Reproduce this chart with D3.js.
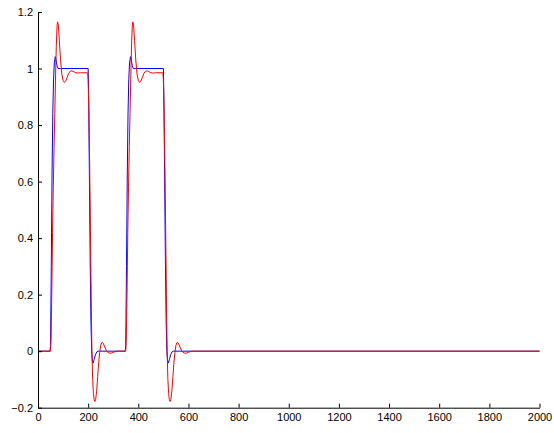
<!DOCTYPE html>
<html>
<head>
<meta charset="utf-8">
<script src="https://cdn.jsdelivr.net/npm/d3@7"></script>
<style>
  body { margin: 0; background: #fff; }
  .axis text { font-family: "Liberation Sans", Arial, sans-serif; font-size: 11px; fill: #000; }
  .axis path, .axis line { stroke: #000; }
</style>
</head>
<body>
<div id="chart"></div>
<script>
// tick values
var xTicks = [0, 200, 400, 600, 800, 1000, 1200, 1400, 1600, 1800, 2000];
var yTicks = [-0.2, 0, 0.2, 0.4, 0.6, 0.8, 1, 1.2];

// blue series (time, value)
var blueT = [0, 48, 50, 53, 56, 59, 62, 65, 69, 72, 76, 80, 90, 200, 202, 205, 208, 211, 214, 217, 220, 224, 229, 235, 240,
             348, 350, 353, 356, 359, 362, 365, 369, 372, 376, 380, 390, 500, 502, 505, 508, 511, 514, 517, 520, 524, 529, 535, 540, 2000];
var blueV = [0, 0, 0.02, 0.3, 0.62, 0.84, 0.96, 1.02, 1.042, 1.03, 1.01, 1.0, 1.0, 1.0, 0.9, 0.62, 0.33, 0.11, 0.0, -0.035, -0.042, -0.03, -0.012, -0.002, 0,
             0, 0.02, 0.3, 0.62, 0.84, 0.96, 1.02, 1.042, 1.03, 1.01, 1.0, 1.0, 1.0, 0.9, 0.62, 0.33, 0.11, 0.0, -0.035, -0.042, -0.03, -0.012, -0.002, 0, 0];

// red series (time, value)
var redT = [0, 50, 52, 55, 58, 61, 64, 67, 70, 73, 76, 78, 81, 85, 90, 95, 100, 105, 110, 116, 122, 128, 134, 140, 148, 157, 170, 198,
            200, 203, 206, 209, 212, 215, 218, 221, 224, 227, 230, 234, 238, 242, 246, 250, 254, 257, 261, 266, 272, 278, 285, 292, 300, 310, 320,
            350, 352, 355, 358, 361, 364, 367, 370, 373, 376, 378, 381, 385, 390, 395, 400, 405, 410, 416, 422, 428, 434, 440, 448, 457, 470, 498,
            500, 503, 506, 509, 512, 515, 518, 521, 524, 527, 530, 534, 538, 542, 546, 550, 554, 557, 561, 566, 572, 578, 585, 592, 600, 610, 620, 2000];
var redV = [0, 0, 0.04, 0.2, 0.42, 0.58, 0.72, 0.84, 0.97, 1.08, 1.15, 1.165, 1.155, 1.1, 1.03, 0.98, 0.958, 0.951, 0.954, 0.968, 0.982, 0.99, 0.992, 0.99, 0.986, 0.984, 0.985, 0.985,
            0.96, 0.85, 0.66, 0.44, 0.2, 0.0, -0.1, -0.15, -0.172, -0.178, -0.17, -0.14, -0.09, -0.04, -0.005, 0.02, 0.03, 0.031, 0.026, 0.015, 0.003, -0.004, -0.007, -0.007, -0.004, -0.001, 0,
            0, 0.04, 0.2, 0.42, 0.58, 0.72, 0.84, 0.97, 1.08, 1.15, 1.165, 1.155, 1.1, 1.03, 0.98, 0.958, 0.951, 0.954, 0.968, 0.982, 0.99, 0.992, 0.99, 0.986, 0.984, 0.985, 0.985,
            0.96, 0.85, 0.66, 0.44, 0.2, 0.0, -0.1, -0.15, -0.172, -0.178, -0.17, -0.14, -0.09, -0.04, -0.005, 0.02, 0.03, 0.031, 0.026, 0.015, 0.003, -0.004, -0.007, -0.007, -0.004, -0.001, 0, 0];

var chartWidth = 554,
    chartHeight = 433;

var margin = {top: 12, right: 14.5, bottom: 25.3, left: 38},
    width  = chartWidth - margin.left - margin.right,
    height = chartHeight - margin.top - margin.bottom;

var x = d3.scaleLinear().domain([0, 2000]).range([0, width]);
var y = d3.scaleLinear().domain([-0.2, 1.2]).range([height, 0]);

var svg = d3.select("#chart").append("svg")
    .attr("width", chartWidth)
    .attr("height", chartHeight)
  .append("g")
    .attr("transform", "translate(" + margin.left + "," + margin.top + ")");

var line = d3.line()
    .x(function(d) { return x(d[0]); })
    .y(function(d) { return y(d[1]); });

var blueData = blueT.map(function(t, i) { return [t, blueV[i]]; });
var redData  = redT.map(function(t, i) { return [t, redV[i]]; });

svg.append("path")
    .datum(blueData)
    .attr("fill", "none")
    .attr("stroke", "#0000ff")
    .attr("stroke-width", 1)
    .attr("d", line);

svg.append("path")
    .datum(redData)
    .attr("fill", "none")
    .attr("stroke", "#ff0000")
    .attr("stroke-width", 1)
    .attr("d", line);

var fmt = d3.format("~g");

svg.append("g")
    .attr("class", "axis axis--x")
    .attr("transform", "translate(0," + height + ")")
    .call(d3.axisBottom(x).tickValues(xTicks).tickSizeInner(-4).tickSizeOuter(0).tickPadding(6).tickFormat(fmt));

svg.append("g")
    .attr("class", "axis axis--y")
    .call(d3.axisLeft(y).tickValues(yTicks).tickSizeInner(-4).tickSizeOuter(0).tickPadding(5).tickFormat(fmt));
</script>
</body>
</html>
